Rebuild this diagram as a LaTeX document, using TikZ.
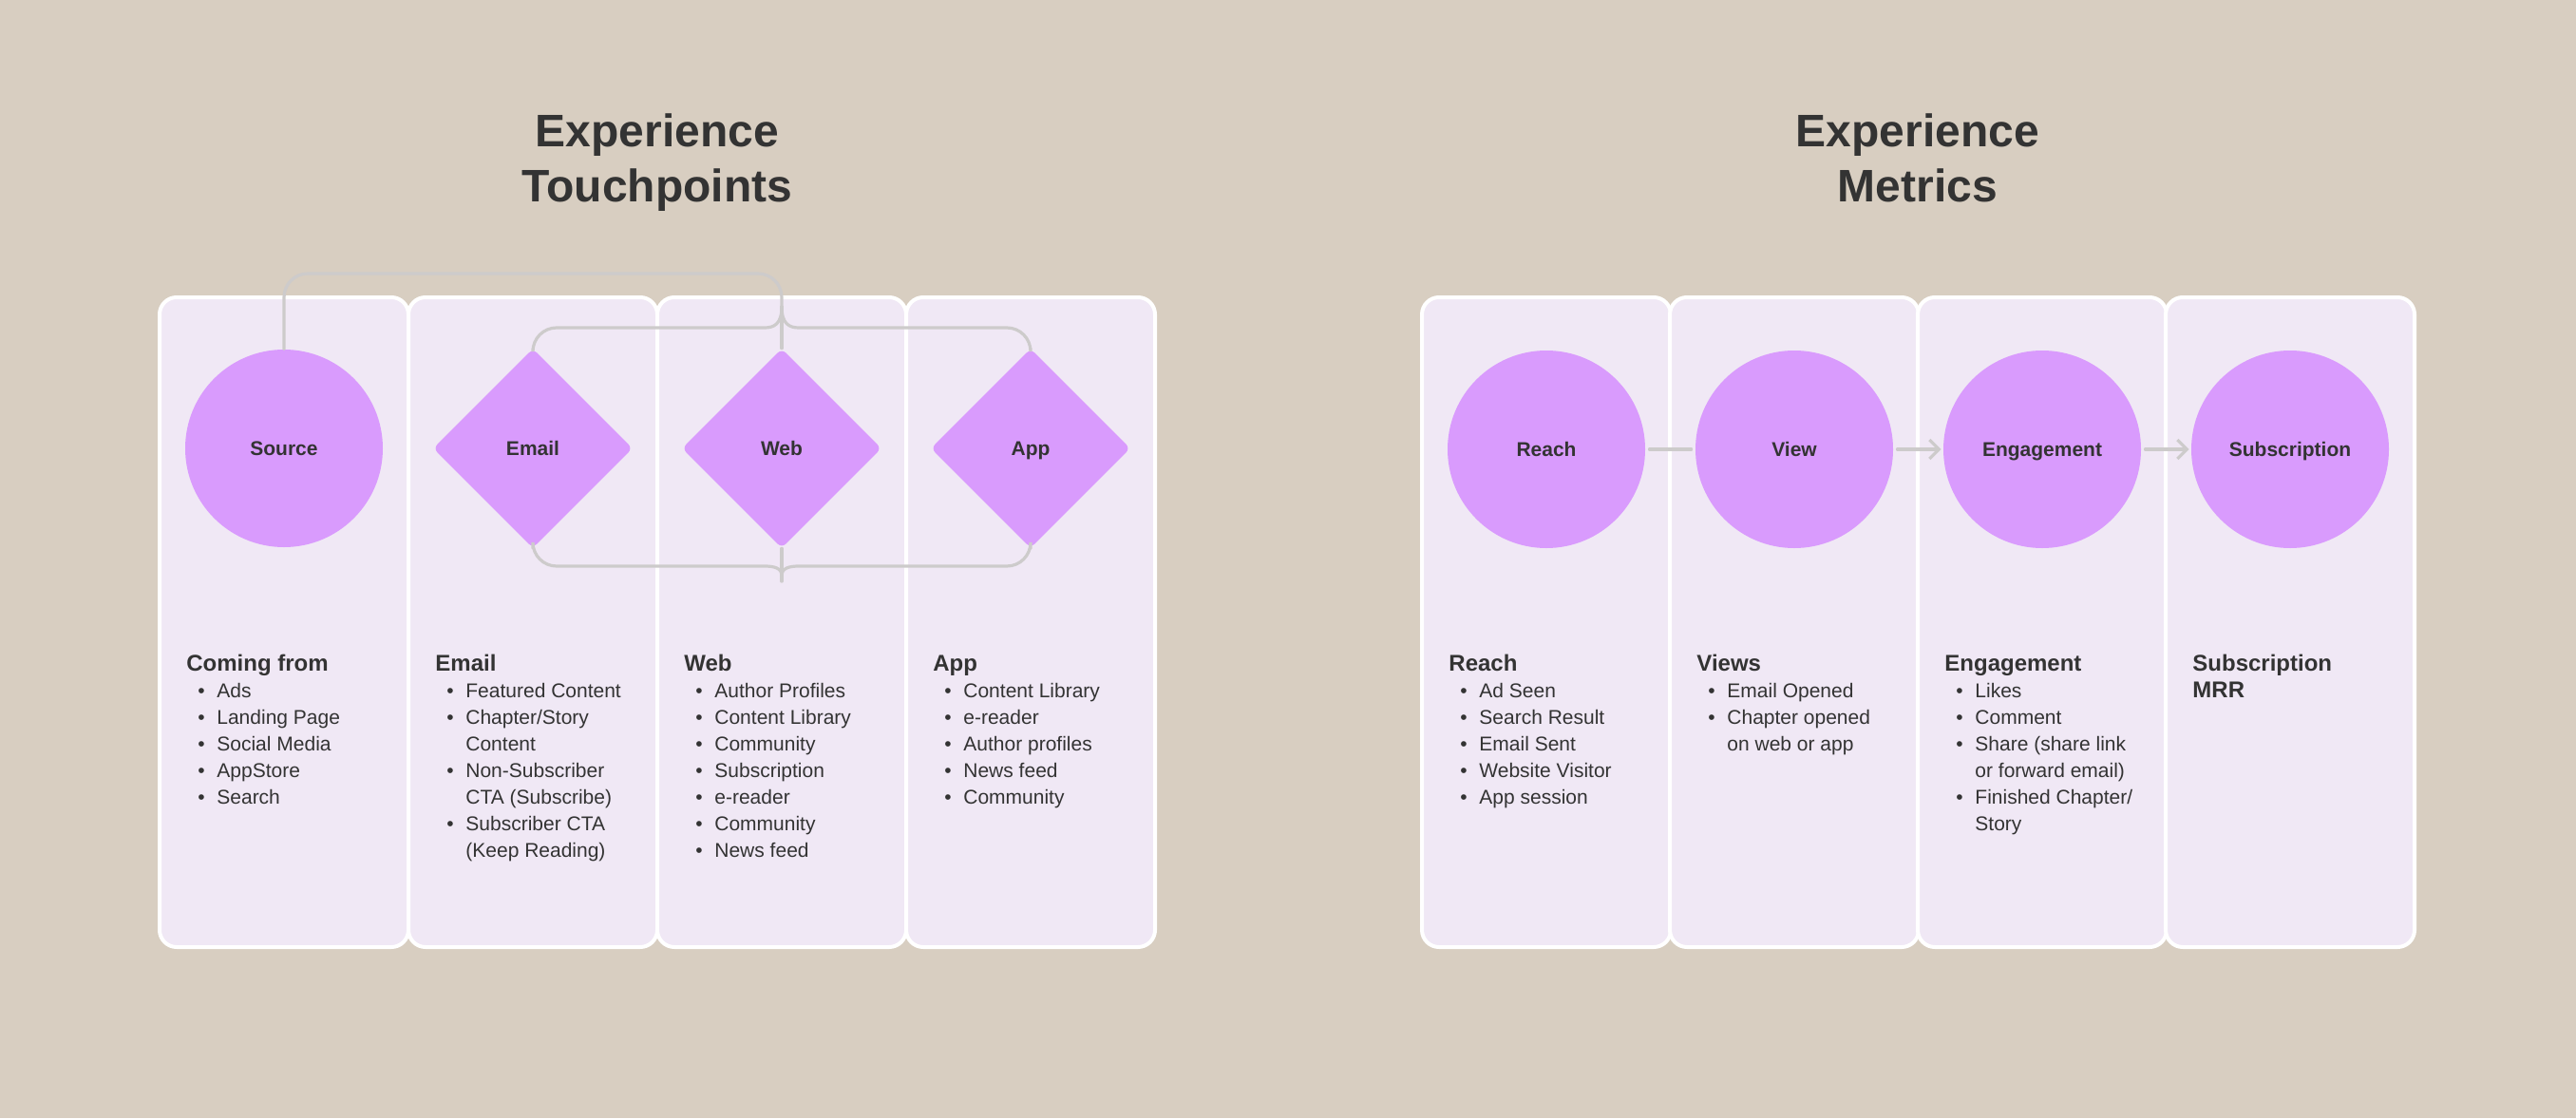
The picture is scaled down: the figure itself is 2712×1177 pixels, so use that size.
\documentclass[tikz,border=0pt]{standalone}
\usepackage{fontspec}
\setmainfont{Liberation Sans}
\usepackage{tikz}
\usetikzlibrary{shapes.geometric}
\usetikzlibrary{arrows.meta}
\definecolor{sandbg}{HTML}{D8CEC1}
\definecolor{cardfill}{HTML}{F0E8F5}
\definecolor{lilac}{HTML}{D99BFD}
\definecolor{inkgrey}{HTML}{333333}
\definecolor{linkgrey}{HTML}{CDCBCB}
\newcommand{\bul}{\makebox[16pt][l]{\hspace{6pt}\textbullet}}
\newcommand{\ind}{\hspace*{16pt}}
\newcommand{\head}[1]{{\rule{0pt}{10pt}\fontsize{12}{14}\selectfont\bfseries #1}}
\newcommand{\ttlstrut}{\rule{0pt}{20pt}}
\tikzset {
  % column card behind each step
  card/.style = {draw=white, fill=cardfill, line width=2pt, rounded corners=9pt,
    minimum width=131pt, minimum height=342pt, inner sep=0pt},
  % round steps and diamond steps
  main/.style = {circle, fill=lilac, minimum size=104pt, inner sep=0pt,
    text height=8pt, text depth=0.5pt, text=inkgrey,
    font=\fontsize{10.5}{12}\selectfont\bfseries},
  choice/.style = {diamond, fill=lilac, minimum width=105pt, minimum height=105pt,
    inner sep=0pt, rounded corners=3pt, text height=8pt, text depth=0.5pt,
    text=inkgrey, font=\fontsize{10.5}{12}\selectfont\bfseries},
  % grey connectors
  link/.style = {draw=linkgrey, line width=1.6pt, line cap=round},
  flow/.style = {link, -{Straight Barb[length=5pt, width=10pt]}},
  % texts (placed by the top of their first line)
  bigtitle/.style = {anchor=north, align=center, inner sep=0pt, text=inkgrey,
    font=\fontsize{24}{29}\selectfont\bfseries},
  items/.style = {anchor=north west, align=left, inner sep=0pt, text=inkgrey,
    font=\fontsize{10.5}{14}\selectfont},
}

\begin{document}
\begin{tikzpicture}[x=0.5pt, y=-0.5pt]
  \useasboundingbox (0,0) rectangle (2712,1177);
  \fill[sandbg] (0,0) rectangle (2712,1177);

  \node[bigtitle] (ttl1) at (692,114) {\ttlstrut Experience\\Touchpoints};
  \node[bigtitle] (ttl2) at (2019,114) {\ttlstrut Experience\\Metrics};

  % touchpoint columns
  \node[card] (c1) at (299,655) {};
  \node[card] (c2) at (561,655) {};
  \node[card] (c3) at (823,655) {};
  \node[card] (c4) at (1085,655) {};

  % metric columns
  \node[card] (m1) at (1628,655) {};
  \node[card] (m2) at (1889,655) {};
  \node[card] (m3) at (2150,655) {};
  \node[card] (m4) at (2411,655) {};

  \coordinate (topbend) at (823,288);
  \coordinate (toptip) at (823,323);
  \coordinate (botjoin) at (823,606);
  \coordinate (bottip) at (823,612);

  \node[main] (src) at (299,472) {Source};
  \node[choice] (email) at (561,472) {Email};
  \node[choice] (web) at (823,472) {Web};
  \node[choice] (app) at (1085,472) {App};

  \draw[link, rounded corners=12.5pt] (src.north) |- (topbend) -- (toptip);
  \draw[link] (toptip) -- (web.north);
  \draw[link] (toptip) .. controls +(0,18) and +(10,0) .. ++(-18,22)
    [rounded corners=12.5pt] -| (email.north);
  \draw[link] (toptip) .. controls +(0,18) and +(-10,0) .. ++(18,22)
    [rounded corners=12.5pt] -| (app.north);
  \draw[link] (web.south) -- (bottip);
  \draw[link] (botjoin) .. controls +(0,-8) and +(10,0) .. ++(-18,-10)
    [rounded corners=12.5pt] -| (email.south);
  \draw[link] (botjoin) .. controls +(0,-8) and +(-10,0) .. ++(18,-10)
    [rounded corners=12.5pt] -| (app.south);

  \node[main] (reach) at (1628,473) {Reach};
  \node[main] (view) at (1889,473) {View};
  \node[main] (engage) at (2150,473) {Engagement};
  \node[main] (subscr) at (2411,473) {Subscription};

  \draw[link, shorten <=2pt, shorten >=2pt] (reach) -- (view);
  \draw[flow, shorten <=2pt, shorten >=1pt] (view) -- (engage);
  \draw[flow, shorten <=2pt, shorten >=1pt] (engage) -- (subscr);

  \node[items] (t1) at (196,686) {\head{Coming from}\\
    \bul Ads\\ \bul Landing Page\\ \bul Social Media\\ \bul AppStore\\ \bul Search};
  \node[items] (t2) at (458,686) {\head{Email}\\
    \bul Featured Content\\ \bul Chapter/Story\\ \ind Content\\
    \bul Non-Subscriber\\ \ind CTA (Subscribe)\\
    \bul Subscriber CTA\\ \ind (Keep Reading)};
  \node[items] (t3) at (720,686) {\head{Web}\\
    \bul Author Profiles\\ \bul Content Library\\ \bul Community\\
    \bul Subscription\\ \bul e-reader\\ \bul Community\\ \bul News feed};
  \node[items] (t4) at (982,686) {\head{App}\\
    \bul Content Library\\ \bul e-reader\\ \bul Author profiles\\
    \bul News feed\\ \bul Community};

  \node[items] (u1) at (1525,686) {\head{Reach}\\
    \bul Ad Seen\\ \bul Search Result\\ \bul Email Sent\\
    \bul Website Visitor\\ \bul App session};
  \node[items] (u2) at (1786,686) {\head{Views}\\
    \bul Email Opened\\ \bul Chapter opened\\ \ind on web or app};
  \node[items] (u3) at (2047,686) {\head{Engagement}\\
    \bul Likes\\ \bul Comment\\ \bul Share (share link\\ \ind or forward email)\\
    \bul Finished Chapter/\\ \ind Story};
  \node[items] (u4) at (2308,686) {\head{Subscription}\\ \head{MRR}};
\end{tikzpicture}
\end{document}
